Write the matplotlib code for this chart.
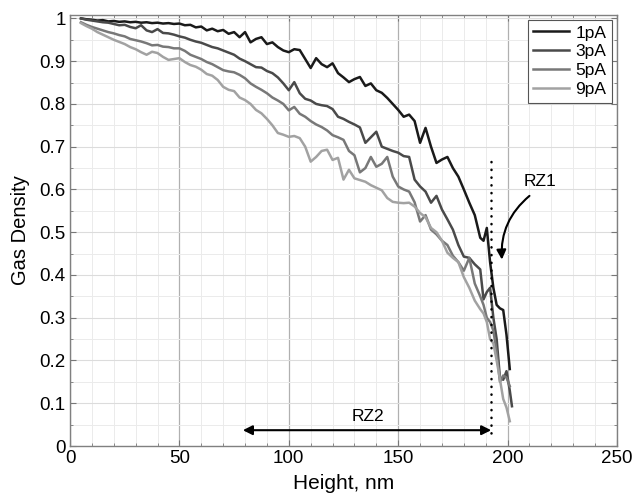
import numpy as np
import matplotlib
matplotlib.use("Agg")
import matplotlib.pyplot as plt
from matplotlib.ticker import MultipleLocator
from matplotlib.patches import FancyArrowPatch

plt.rcParams['font.family'] = ['Liberation Sans', 'DejaVu Sans']

# heights (nm): 2.5 nm steps up to 187.5, then a finer tail near the edge
heights = list(np.arange(5, 190, 2.5)) + [189, 190.5, 192, 193.5, 195, 196.5, 198, 199.5, 201, 202]

dens_1pA = [
    1.000, 0.998, 0.997, 0.995, 0.996, 0.993, 0.994, 0.992, 0.993, 0.991,
    0.992, 0.990, 0.991, 0.989, 0.990, 0.988, 0.989, 0.987, 0.988, 0.984,
    0.985, 0.979, 0.981, 0.972, 0.976, 0.970, 0.973, 0.964, 0.968, 0.956,
    0.968, 0.944, 0.952, 0.956, 0.940, 0.944, 0.933, 0.925, 0.921, 0.928,
    0.926, 0.905, 0.884, 0.907, 0.893, 0.886, 0.895, 0.872, 0.862, 0.851,
    0.858, 0.863, 0.842, 0.848, 0.832, 0.826, 0.814, 0.800, 0.786, 0.770,
    0.775, 0.760, 0.709, 0.744, 0.700, 0.662, 0.670, 0.676, 0.650, 0.630,
    0.600, 0.569, 0.540, 0.487,
    0.480, 0.510, 0.430, 0.370, 0.330, 0.322, 0.318, 0.260, 0.180, np.nan]

dens_3pA = [
    1.000, 0.997, 0.995, 0.993, 0.991, 0.990, 0.987, 0.984, 0.985, 0.980,
    0.977, 0.984, 0.972, 0.968, 0.975, 0.966, 0.965, 0.962, 0.958, 0.955,
    0.950, 0.946, 0.943, 0.938, 0.933, 0.930, 0.925, 0.920, 0.915, 0.906,
    0.900, 0.893, 0.886, 0.885, 0.877, 0.872, 0.862, 0.848, 0.832, 0.851,
    0.825, 0.812, 0.808, 0.800, 0.797, 0.795, 0.788, 0.770, 0.765, 0.758,
    0.752, 0.745, 0.709, 0.722, 0.735, 0.700, 0.695, 0.690, 0.686, 0.678,
    0.676, 0.623, 0.607, 0.595, 0.569, 0.585, 0.553, 0.530, 0.506, 0.470,
    0.443, 0.440, 0.425, 0.413,
    0.343, 0.360, 0.370, 0.300, 0.250, 0.160, 0.155, 0.175, 0.130, 0.093]

dens_5pA = [
    0.991, 0.985, 0.980, 0.976, 0.972, 0.968, 0.965, 0.961, 0.958, 0.952,
    0.949, 0.946, 0.942, 0.937, 0.938, 0.934, 0.933, 0.930, 0.930, 0.924,
    0.915, 0.910, 0.905, 0.898, 0.893, 0.886, 0.879, 0.876, 0.874, 0.868,
    0.860, 0.848, 0.840, 0.833, 0.825, 0.815, 0.808, 0.800, 0.785, 0.793,
    0.777, 0.770, 0.760, 0.752, 0.746, 0.738, 0.727, 0.722, 0.716, 0.690,
    0.680, 0.640, 0.650, 0.676, 0.653, 0.660, 0.676, 0.630, 0.607, 0.600,
    0.595, 0.570, 0.525, 0.540, 0.506, 0.495, 0.480, 0.470, 0.445, 0.430,
    0.410, 0.440, 0.380, 0.350,
    0.330, 0.300, 0.290, 0.270, 0.220, 0.150, 0.165, 0.160, 0.140, np.nan]

dens_9pA = [
    0.989, 0.982, 0.976, 0.968, 0.962, 0.956, 0.950, 0.945, 0.940, 0.933,
    0.928, 0.921, 0.915, 0.922, 0.919, 0.910, 0.903, 0.905, 0.907, 0.898,
    0.891, 0.887, 0.880, 0.870, 0.866, 0.856, 0.840, 0.833, 0.830, 0.815,
    0.809, 0.800, 0.786, 0.778, 0.765, 0.750, 0.732, 0.728, 0.723, 0.725,
    0.720, 0.700, 0.665, 0.676, 0.690, 0.693, 0.669, 0.674, 0.623, 0.646,
    0.626, 0.622, 0.618, 0.610, 0.604, 0.598, 0.580, 0.571, 0.569, 0.568,
    0.569, 0.560, 0.545, 0.535, 0.510, 0.500, 0.480, 0.452, 0.440, 0.430,
    0.395, 0.370, 0.340, 0.320,
    0.310, 0.290, 0.250, 0.240, 0.200, 0.156, 0.110, 0.090, 0.058, np.nan]

labels = ['1pA', '3pA', '5pA', '9pA']
colors = ['#1a1a1a', '#4a4a4a', '#787878', '#a2a2a2']

rz_edge = 192.5      # dotted boundary
rz2_start = 79

fig = plt.figure(figsize=(6.33, 4.93), dpi=100)
ax = fig.add_axes([0.1106, 0.0953, 0.8641, 0.8743])

for vals, lab, c in zip([dens_1pA, dens_3pA, dens_5pA, dens_9pA], labels, colors):
    ax.plot(heights, vals, color=c, lw=1.8, label=lab)

ax.set_xlim(0, 250)
ax.set_ylim(0, 1.008)
ax.xaxis.set_major_locator(MultipleLocator(50))
ax.xaxis.set_minor_locator(MultipleLocator(10))
ax.yaxis.set_major_locator(MultipleLocator(0.1))
ax.yaxis.set_minor_locator(MultipleLocator(0.05))
ax.set_yticks(np.arange(0, 1.01, 0.1))
ax.set_yticklabels(['0', '0.1', '0.2', '0.3', '0.4', '0.5', '0.6', '0.7', '0.8', '0.9', '1'])

ax.grid(True, which='major', axis='x', color='#b0b0b0', lw=0.9)
ax.grid(True, which='major', axis='y', color='#dcdcdc', lw=0.8)
ax.grid(True, which='minor', color='#ebebeb', lw=0.7)
ax.set_axisbelow(True)

ax.tick_params(which='both', direction='in', top=True, right=True, labelsize=13.5,
               color='#777777', pad=3)
ax.tick_params(which='major', length=4)
ax.tick_params(which='minor', length=2)
for s in ax.spines.values():
    s.set_color('#808080')
    s.set_linewidth(1.0)

ax.set_xlabel('Height, nm', fontsize=15)
ax.xaxis.set_label_coords(0.5, -0.064)
ax.set_ylabel('Gas Density', fontsize=14.5)
ax.yaxis.set_label_coords(-0.073, 0.5)

leg = ax.legend(loc='upper right', bbox_to_anchor=(0.99, 0.988), fontsize=12.5,
                handlelength=2.1, handletextpad=0.35, labelspacing=0.22,
                borderpad=0.3, borderaxespad=0, fancybox=False, framealpha=1)
leg.get_frame().set_edgecolor('#555555')
leg.get_frame().set_linewidth(0.8)

# region boundary
ax.plot([rz_edge, rz_edge], [0.03, 0.68], color='black', lw=1.8,
        linestyle=(0, (0.1, 3)), dash_capstyle='round')

# RZ2 double arrow
ax.annotate('', xy=(rz2_start, 0.037), xytext=(rz_edge, 0.037),
            arrowprops=dict(arrowstyle='<|-|>', color='black', lw=1.5,
                            mutation_scale=14, shrinkA=0, shrinkB=0))
ax.text(136, 0.052, 'RZ2', fontsize=12.5, ha='center', va='bottom')

# RZ1 label with curved arrow
ax.text(215, 0.618, 'RZ1', fontsize=12.5, ha='center', va='center')
arr = FancyArrowPatch((210, 0.585), (197.4, 0.436), connectionstyle='arc3,rad=0.25',
                      arrowstyle='-|>', mutation_scale=14, color='black', lw=1.5,
                      shrinkA=0, shrinkB=0)
ax.add_patch(arr)

fig.savefig('out.png', dpi=100)
